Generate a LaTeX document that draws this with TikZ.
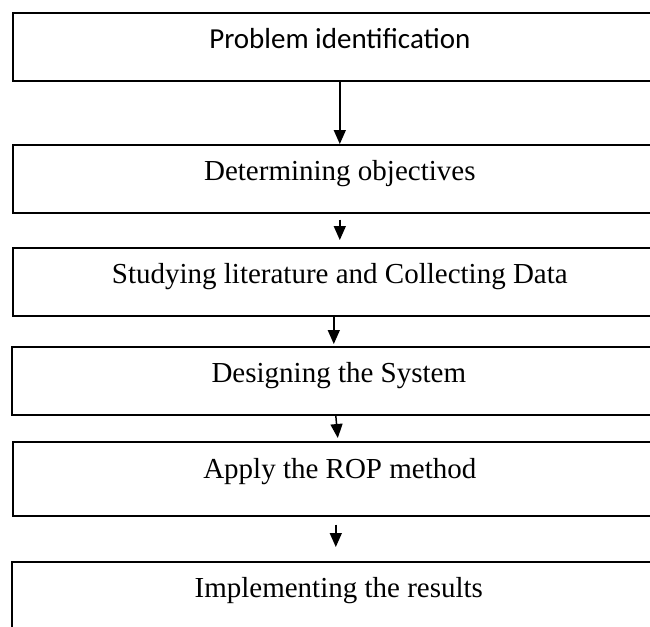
\documentclass[tikz,border=0pt]{standalone}
\usepackage{fontspec}
\setmainfont{Liberation Serif}
\newfontfamily\calibri{Carlito}
\usetikzlibrary{arrows.meta}

\tikzset{
  stage/.style={draw, line width=1.6pt, rectangle, anchor=north west,
    minimum width=654pt, minimum height=68pt, inner sep=0pt,
    font=\fontsize{29}{34}\selectfont, text height=0.62em, text depth=0.3em},
  flow/.style={line width=1.5pt, -{Triangle[length=14pt,width=12pt]}},
}

\begin{document}
\begin{tikzpicture}[x=1pt,y=-1pt]
\useasboundingbox (0,0) rectangle (650,626);
\clip (0,0) rectangle (650,626);
\node[stage] (s1) at (12,12) {\calibri Problem identification};
\node[stage] (s2) at (12,144) {Determining objectives};
\node[stage] (s3) at (12,247) {Studying literature and Collecting Data};
\node[stage] (s4) at (11,346) {Designing the System};
\node[stage, minimum height=74pt, text depth=0.6em] (s5) at (12,441) {Apply the ROP method};
\node[stage] (s6) at (11,561) {Implementing the results};
% arrows between stages
\draw[flow] (s1.south) -- (s2.north);
\draw[flow] ([yshift=-6pt]s2.south) -- ([yshift=7pt]s3.north);
\draw[flow] ([xshift=-6pt]s3.south) -- ([xshift=-5pt,yshift=2pt]s4.north);
\draw[flow] ([xshift=-3pt]s4.south) -- ([xshift=-2pt,yshift=3pt]s5.north);
\draw[flow] ([xshift=-4pt,yshift=-8pt]s5.south) -- ([xshift=-3pt,yshift=14pt]s6.north);
\end{tikzpicture}
\end{document}
